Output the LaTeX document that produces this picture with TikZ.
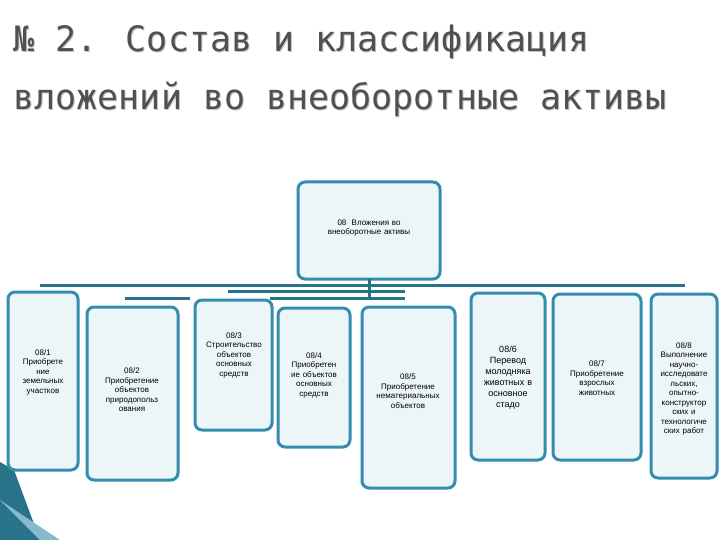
\documentclass[tikz,border=0pt]{standalone}
\usepackage{fontspec}
\setmainfont{Liberation Sans}
\newfontfamily\titlefont{DejaVu Sans Mono}
\begin{document}
\begin{tikzpicture}[x=1pt,y=-1pt,
  bx/.style={draw=boxc,line width=3pt,fill=boxf,rounded corners=7pt,inner sep=0pt},
  bar/.style={draw=barc,line width=3pt},
  lbl/.style={font=\fontsize{8}{9.5}\selectfont,align=center,text width=#1}]
\definecolor{boxc}{RGB}{52,140,175}
\definecolor{boxf}{RGB}{236,245,248}
\definecolor{barc}{RGB}{40,115,135}
\definecolor{titc}{RGB}{80,80,80}
\useasboundingbox (0,0) rectangle (720,540);
\fill[white] (0,0) rectangle (720,540);
% decoration bottom-left
\fill[barc] (0,462) -- (14,470) -- (40,540) -- (0,540) -- cycle;
\fill[boxc!60] (0,500) -- (60,540) -- (40,540) -- cycle;
% title
\node[anchor=west,font=\titlefont\fontsize{35}{58}\selectfont,text=titc!35,align=left] at (11,72) {№ 2. Состав и классификация\\вложений во внеоборотные активы};
\node[anchor=west,font=\titlefont\fontsize{35}{58}\selectfont,text=titc,align=left] at (10,71) {№ 2. Состав и классификация\\вложений во внеоборотные активы};
% boxes
\draw[bx] (298,182) rectangle (440,279);
\node[lbl=130pt] (top) at (369,228) {08\ \ Вложения во\\внеоборотные активы};
\coordinate (topb) at (369,279);
\draw[bx] (8,292) rectangle (78,470); \node[lbl=66pt] (b1) at (43,372) {08/1\\Приобрете\\ние\\земельных\\участков};
\draw[bx] (87,307) rectangle (178,480); \node[lbl=88pt] (b2) at (132,390) {08/2\\Приобретение\\объектов\\природопольз\\ования};
\draw[bx] (195,300) rectangle (272,430); \node[lbl=74pt] (b3) at (234,355) {08/3\\Строительство\\объектов\\основных\\средств};
\draw[bx] (278,308) rectangle (350,447); \node[lbl=70pt] (b4) at (314,375) {08/4\\Приобретен\\ие объектов\\основных\\средств};
\draw[bx] (362,307) rectangle (455,488); \node[lbl=90pt] (b5) at (408,391) {08/5\\Приобретение\\нематериальных\\объектов};
\draw[bx] (471,293) rectangle (545,460); \node[lbl=72pt,font=\fontsize{9}{11}\selectfont] (b6) at (508,378) {08/6\\Перевод\\молодняка\\животных в\\основное\\стадо};
\draw[bx] (553,294) rectangle (641,460); \node[lbl=86pt] (b7) at (597,378) {08/7\\Приобретение\\взрослых\\животных};
\draw[bx] (651,294) rectangle (717,478); \node[lbl=64pt] (b8) at (684,389) {08/8\\Выполнение\\научно-\\исследовате\\льских,\\опытно-\\конструктор\\ских и\\технологиче\\ских работ};
% connectors
\draw[bar] (topb) -- (369,297);
\draw[bar] (40,285) -- (685,285);
\draw[bar] (228,291) -- (405,291);
\draw[bar] (270,298) -- (405,298);
\draw[bar] (125,298) -- (190,298);
\end{tikzpicture}
\end{document}
